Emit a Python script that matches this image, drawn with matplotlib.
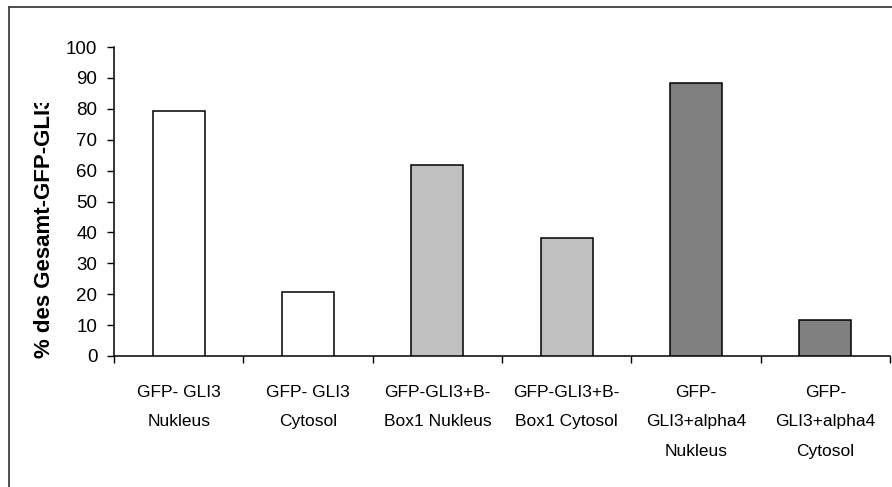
import matplotlib
matplotlib.use("Agg")
import matplotlib.pyplot as plt
from matplotlib.lines import Line2D
from matplotlib.transforms import Bbox, TransformedBbox, blended_transform_factory

categories = [
    "GFP- GLI3\nNukleus",
    "GFP- GLI3\nCytosol",
    "GFP-GLI3+B-\nBox1 Nukleus",
    "GFP-GLI3+B-\nBox1 Cytosol",
    "GFP-\nGLI3+alpha4\nNukleus",
    "GFP-\nGLI3+alpha4\nCytosol",
]
values = [79.4, 20.6, 61.7, 38.3, 88.5, 11.5]
bar_colors = ["#FFFFFF", "#FFFFFF", "#C0C0C0", "#C0C0C0", "#808080", "#808080"]
y_ticks = list(range(0, 101, 10))
y_label = "% des Gesamt-GFP-GLI3"

W, H = 892, 487
fig = plt.figure(figsize=(W / 100, H / 100), dpi=100)
fig.patch.set_facecolor("white")

ax = fig.add_axes([114 / W, 1 - 356 / H, (890 - 114) / W, (356 - 47) / H])
x = list(range(len(categories)))
ax.bar(x, values, width=0.4, color=bar_colors, edgecolor="black", linewidth=1.1, zorder=3)

ax.set_xlim(-0.5, len(categories) - 0.5)
ax.set_ylim(0, 100)
ax.set_yticks(y_ticks)
ax.set_yticklabels([str(v) for v in y_ticks], fontsize=13.5, family="Liberation Sans")
ax.tick_params(axis="y", direction="out", length=5, width=1, pad=7)

# tick marks between categories; labels centred under each bar
ax.set_xticks([i - 0.5 for i in range(len(categories) + 1)])
ax.set_xticklabels([])
ax.tick_params(axis="x", direction="out", length=5, width=1)
xlab_tf = blended_transform_factory(ax.transData, ax.transAxes)
for xi, name in zip(x, categories):
    ax.text(xi, -0.094, name, transform=xlab_tf, ha="center", va="top",
            fontsize=12.5, family="Liberation Sans", linespacing=2.2,
            multialignment="center")

for side in ("top", "right"):
    ax.spines[side].set_visible(False)
for side in ("left", "bottom"):
    ax.spines[side].set_linewidth(1.1)
    ax.spines[side].set_color("black")

# y-axis title, clipped at the top of its text box
t = fig.text(45 / W, 1 - 358 / H, y_label, rotation=90, ha="center", va="bottom",
             fontsize=16, fontweight="bold", family="Liberation Sans")
clip = TransformedBbox(Bbox([[0, 0], [1, 1 - 103 / H]]), fig.transFigure)
t.set_clip_box(clip)
t.set_clip_on(True)

# chart area border
fig.add_artist(Line2D([9 / W, 9 / W], [0, 1 - 7 / H], transform=fig.transFigure,
                      color="#404040", linewidth=1.3))
fig.add_artist(Line2D([9 / W, 1], [1 - 7 / H, 1 - 7 / H], transform=fig.transFigure,
                      color="#404040", linewidth=1.3))

fig.savefig("out.png", dpi=100)
